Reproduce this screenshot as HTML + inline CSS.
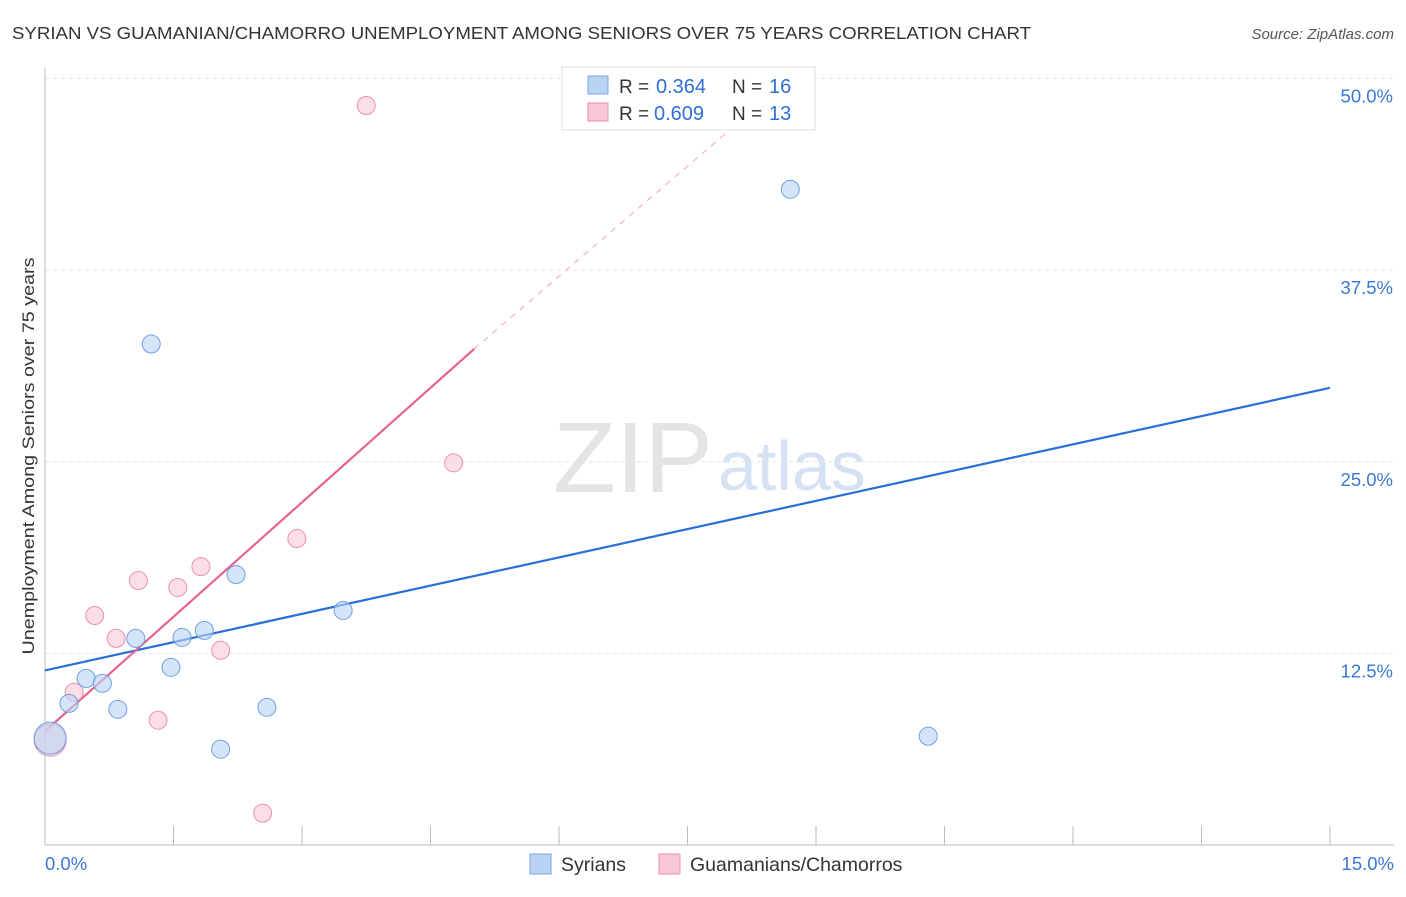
<!DOCTYPE html>
<html><head><meta charset="utf-8"><style>
body{margin:0;background:#fff;font-family:"Liberation Sans",sans-serif;}
svg text{font-family:"Liberation Sans",sans-serif;}
</style></head><body>
<svg id="chart" width="1406" height="892">
<text x="12" y="39" font-size="17.5" fill="#333" textLength="1019" lengthAdjust="spacingAndGlyphs">SYRIAN VS GUAMANIAN/CHAMORRO UNEMPLOYMENT AMONG SENIORS OVER 75 YEARS CORRELATION CHART</text>
<text x="1394" y="39" font-size="15" fill="#555" font-style="italic" text-anchor="end">Source: ZipAtlas.com</text>
<text x="553" y="492" font-size="100" fill="#e4e4e4" font-family="Liberation Serif" textLength="160" lengthAdjust="spacingAndGlyphs">ZIP</text>
<text x="718" y="490" font-size="70" fill="#d4e2f4">atlas</text>
<g id="grid"></g>
<g id="axes"></g>
<g id="lines"></g>
<g id="points"></g>
<text transform="translate(34,456) rotate(-90)" font-size="17" fill="#333" text-anchor="middle" textLength="397" lengthAdjust="spacingAndGlyphs">Unemployment Among Seniors over 75 years</text>
<g>
<rect x="562" y="67" width="253" height="63" fill="#fff" stroke="#ddd"/>
<rect x="588" y="76" width="20" height="18" fill="#b9d3f5" stroke="#7aa6e0"/>
<text x="619" y="93" font-size="19" fill="#333">R = </text><text x="656" y="93" font-size="20" fill="#2f6fd6">0.364</text>
<text x="732" y="93" font-size="19" fill="#333">N = </text><text x="769" y="93" font-size="20" fill="#2f6fd6">16</text>
<rect x="588" y="103" width="20" height="18" fill="#f9c8d6" stroke="#eb90ac"/>
<text x="619" y="120" font-size="19" fill="#333">R = </text><text x="654" y="120" font-size="20" fill="#2f6fd6">0.609</text>
<text x="732" y="120" font-size="19" fill="#333">N = </text><text x="769" y="120" font-size="20" fill="#2f6fd6">13</text>
</g>
<g>
<rect x="530" y="854" width="21" height="20" fill="#b9d3f5" stroke="#7aa6e0"/>
<text x="561" y="871" font-size="19.5" fill="#333">Syrians</text>
<rect x="659" y="854" width="21" height="20" fill="#f9c8d6" stroke="#eb90ac"/>
<text x="690" y="871" font-size="19.5" fill="#333">Guamanians/Chamorros</text>
</g>
</svg>
<script>
const xTickLabels=["0.0%","15.0%"];
const yTicks=[12.5,25,37.5,50];
const yTickLabels=["12.5%","25.0%","37.5%","50.0%"];
const syrX=[0.06,0.28,0.48,0.67,0.85,1.06,1.24,1.47,1.60,1.86,2.05,2.23,2.59,3.48,8.70,10.31];
const syrY=[6.97,9.24,10.87,10.55,8.85,13.48,32.68,11.59,13.54,14.00,6.25,17.64,8.98,15.30,42.77,7.10];
const guaX=[0.06,0.34,0.58,0.83,1.09,1.32,1.55,1.82,2.05,2.54,2.94,3.75,4.77];
const guaY=[6.84,9.96,14.97,13.48,17.25,8.14,16.80,18.16,12.70,2.08,19.99,48.24,24.93];
const syrLine=[[0,11.39],[15,29.82]];
const guaLine=[[0,7.42],[5.01,32.36]];
const guaDash=[[5.01,32.36],[8.11,47.2]];
const NS="http://www.w3.org/2000/svg";
const X=v=>45+v/15*1285, Y=v=>845-v*15.33;
function mk(t,a,p){const e=document.createElementNS(NS,t);for(const k in a)e.setAttribute(k,a[k]);document.getElementById(p).appendChild(e);return e;}
yTicks.forEach((t,i)=>{
 const g=mk('line',{x1:45,x2:1394,y1:Y(t),y2:Y(t),stroke:'#e2e2e2','stroke-dasharray':'4,4'},'grid');
 
 
 const l=mk('text',{x:1393,y:Y(t)+24,'font-size':18.5,fill:'#3a78d4','text-anchor':'end'},'axes');
 l.textContent=yTickLabels[i];
 
 
});
const ax=mk('line',{x1:45,x2:1394,y1:845,y2:845,stroke:'#bbb'},'axes');


const ay=mk('line',{x1:45,x2:45,y1:68,y2:845,stroke:'#bbb'},'axes');


for(let i=1;i<=10;i++){const t=mk('line',{x1:X(i*1.5),x2:X(i*1.5),y1:826,y2:845,stroke:'#bbb'},'axes');
 
 }
[[0,'start',45],[15,'end',1394]].forEach((d,i)=>{const t=mk('text',{x:d[2],y:870,'font-size':18.5,fill:'#3a78d4','text-anchor':d[1]},'axes');t.textContent=xTickLabels[i];
 
 });
function ln(p,c,dash,name){const e=mk('line',{x1:X(p[0][0]),y1:Y(p[0][1]),x2:X(p[1][0]),y2:Y(p[1][1]),stroke:c,'stroke-width':dash?1:2.2,'stroke-dasharray':dash?'6,6':'none'},'lines');
 
 }
ln(syrLine,'#2a6fd8',false,'syrians-trend-line');
ln(guaLine,'#e8628c',false,'guamanians-trend-line');
ln(guaDash,'#f0a0b8',true,'guamanians-trend-extension');
function pts(xs,ys,f,s,name){xs.forEach((x,i)=>{const c=mk('circle',{cx:X(x),cy:Y(ys[i]),r:i==0?16:9,fill:f,stroke:s,'stroke-width':1,'fill-opacity':0.6},'points');
 
 });}
pts(guaX,guaY,'#f9c8d6','#eb90ac','guamanians-point');
pts(syrX,syrY,'#b9d3f5','#6f9ee0','syrians-point');
</script>
</body></html>
